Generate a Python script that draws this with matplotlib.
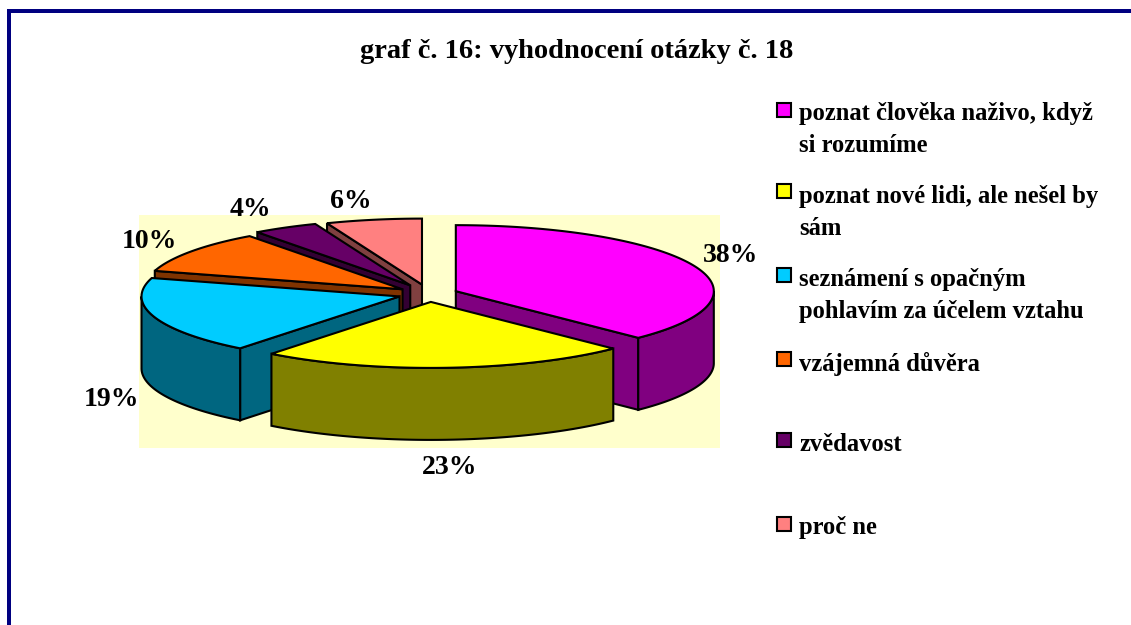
import numpy as np
import matplotlib
matplotlib.use("Agg")
import matplotlib.pyplot as plt
from matplotlib.patches import Polygon, Rectangle

title = "graf č. 16: vyhodnocení otázky č. 18"
labels = ["poznat člověka naživo, když\nsi rozumíme",
          "poznat nové lidi, ale nešel by\nsám",
          "seznámení s opačným\npohlavím za účelem vztahu",
          "vzájemná důvěra",
          "zvědavost",
          "proč ne"]
values = [37.5, 23.1, 18.9, 10.4, 4.1, 6.0]
explode = [0.1125, 0.12, 0.12, 0.125, 0.15, 0.145]
top_colors = ["#FF00FF", "#FFFF00", "#00CCFF", "#FF6600", "#660066", "#FF8080"]
side_colors = ["#800080", "#808000", "#006680", "#803300", "#330033", "#804040"]

# pixel layout
cx, cy = 429, 294
rx, ry = 258, 66
depth = 72
lw = 1.5
font = "Liberation Serif"

# where the percent labels sit, same order as values
pct_pos = [(731, 256), (450, 468), (112, 400), (149, 242), (250, 209), (351, 201)]
legend_y = [103, 184, 268, 352, 433, 517]
legend_text_y = [102, 185, 268, 352, 433, 516]

fig = plt.figure(figsize=(11.31, 6.25), dpi=100)
ax = fig.add_axes([0, 0, 1, 1])
ax.set_xlim(0, 1131)
ax.set_ylim(625, 0)
ax.axis("off")

# frame goes off the right and bottom of the picture
ax.add_patch(Rectangle((7, 9), 1124, 4, fc="#000080", ec="none"))
ax.add_patch(Rectangle((7, 9), 4, 616, fc="#000080", ec="none"))

ax.add_patch(Rectangle((139, 215), 581, 233, fc="#FFFFCC", ec="none"))


def rim(a0, a1, x0, y0):
    t = np.radians(np.linspace(a0, a1, max(int(abs(a1 - a0)) * 2, 2)))
    return np.column_stack([x0 + rx * np.sin(t), y0 - ry * np.cos(t)])


def add_poly(pts, color):
    ax.add_patch(Polygon(pts, closed=True, fc=color, ec="black", lw=lw, joinstyle="miter"))


ends = np.cumsum(values) / sum(values) * 360
starts = np.concatenate([[0], ends[:-1]])
mids = (starts + ends) / 2
xs = cx + np.array(explode) * rx * np.sin(np.radians(mids))
ys = cy - np.array(explode) * ry * np.cos(np.radians(mids))

# back to front, slices in front cover the others
for i in [5, 4, 3, 2, 0, 1]:
    a0, a1 = starts[i], ends[i]
    x0, y0 = xs[i], ys[i]
    down = np.array([0, depth])
    apex = np.array([x0, y0])
    if a0 > 180:
        p = rim(a0, a0, x0, y0)[0]
        add_poly([apex, p, p + down, apex + down], side_colors[i])
    if a1 < 180:
        p = rim(a1, a1, x0, y0)[0]
        add_poly([apex, p, p + down, apex + down], side_colors[i])
    f0, f1 = max(a0, 90), min(a1, 270)
    if f1 > f0:
        arc = rim(f0, f1, x0, y0)
        add_poly(np.vstack([arc, arc[::-1] + down]), side_colors[i])
    add_poly(np.vstack([apex, rim(a0, a1, x0, y0)]), top_colors[i])

ax.text(577, 52, title, family=font, weight="bold", fontsize=20.5, ha="center", va="center")

for v, (px, py) in zip(values, pct_pos):
    ax.text(px, py, f"{v:.0f}%", family=font, weight="bold", fontsize=20, ha="center", va="center")

for lab, c, y, ty in zip(labels, top_colors, legend_y, legend_text_y):
    ax.add_patch(Rectangle((777, y), 14, 14, fc=c, ec="black", lw=lw))
    ax.text(799, ty, lab, family=font, weight="bold", fontsize=17.7, ha="left", va="top", linespacing=1.5)

fig.savefig("out.png", dpi=100)
